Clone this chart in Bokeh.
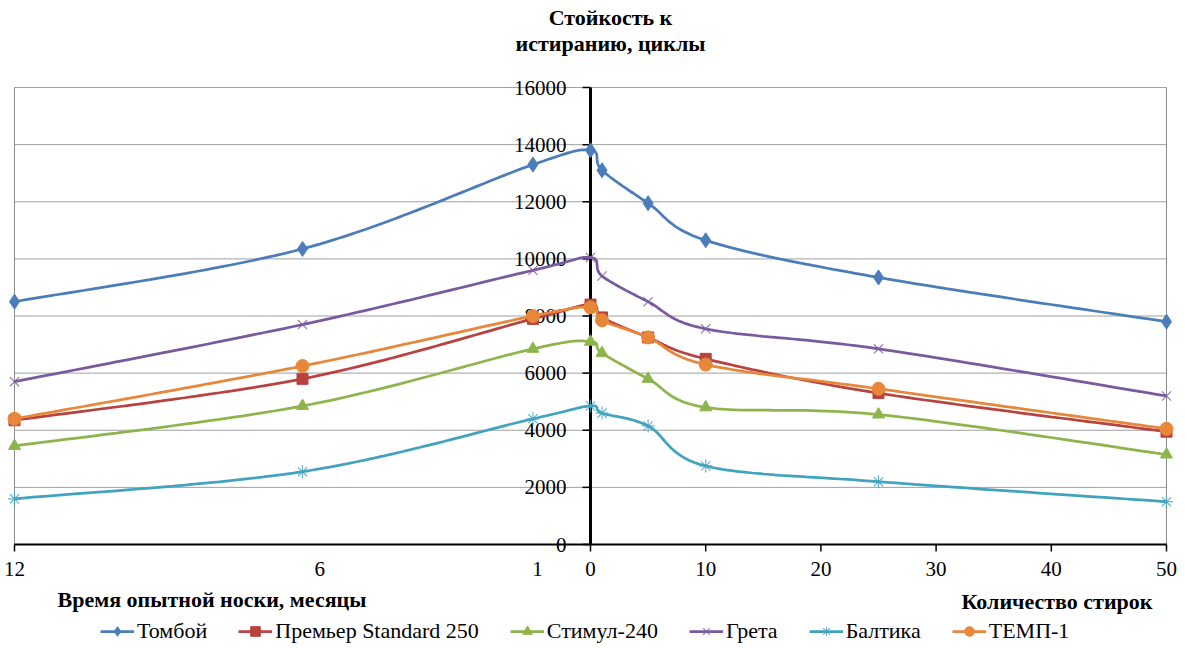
import numpy as np
from bokeh.plotting import figure
from bokeh.models import Range1d, Label, Legend, LegendItem
from bokeh.core.properties import value
from bokeh.embed import file_html
from bokeh.resources import INLINE

# ---------------- data ----------------
months = [12, 6, 1, 0]                 # left half: time of wear, months
washes = [0, 1, 5, 10, 25, 50]         # right half: number of washes
# months are drawn on the same axis as washes (12 -> -50, 6 -> -25, 1 -> -5)
month_scale = {12: -50, 6: -25, 1: -5, 0: 0}

y_ticks = [0, 2000, 4000, 6000, 8000, 10000, 12000, 14000, 16000]
wash_ticks = [0, 10, 20, 30, 40, 50]
month_tick_labels = ["12", "6", "1"]

names = ["Томбой", "Премьер Standard 250", "Стимул-240", "Грета", "Балтика", "ТЕМП-1"]

tomboy_months = [8500, 10350, 13300, 13800]
tomboy_washes = [13800, 13100, 11950, 10650, 9350, 7800]

premier_months = [4350, 5800, 7900, 8400]
premier_washes = [8400, 7950, 7250, 6500, 5300, 3950]

stimul_months = [3450, 4850, 6850, 7100]
stimul_washes = [7100, 6700, 5800, 4800, 4550, 3150]

greta_months = [5700, 7700, 9600, 10050]
greta_washes = [10050, 9400, 8500, 7550, 6850, 5200]

baltika_months = [1600, 2550, 4400, 4850]
baltika_washes = [4850, 4600, 4150, 2750, 2200, 1500]

temp_months = [4400, 6250, 8000, 8300]
temp_washes = [8300, 7850, 7250, 6300, 5450, 4050]

series_months = [tomboy_months, premier_months, stimul_months, greta_months, baltika_months, temp_months]
series_washes = [tomboy_washes, premier_washes, stimul_washes, greta_washes, baltika_washes, temp_washes]

# ---------------- layout & styles ----------------
W, H = 1186, 648
PL, PR, PT, PB = 14, 1166, 87, 544          # plot-area edges in pixels
# month labels 6 and 1 were placed by hand in the original, slightly right of their points
month_label_shift = {12: 0, 6: 1.5, 1: 0.4}

colors = ["#4A7DBA", "#B8423F", "#8DB54B", "#7A5A9E", "#41A3BE", "#E8873A"]
markers = ["diamond", "square", "triangle", "x", "asterisk", "circle"]
msizes = [15, 11, 12, 13, 13, 13]
SERIF = "Liberation Serif"
FS_TICK = "21px"
FS_TEXT = "22px"

x_lo, x_hi = month_scale[months[0]], wash_ticks[-1]
y_lo, y_hi = y_ticks[0], y_ticks[-1]
kx = (PR - PL) / (x_hi - x_lo)
ky = (PB - PT) / (y_hi - y_lo)


def px2x(px):
    return x_lo + (px - PL) / kx


def py2y(py):
    return y_lo + (PB - py) / ky


def smooth(xs, ys, n=30):
    """Excel-like smoothed line (Catmull-Rom Bezier segments)."""
    xs = np.asarray(xs, float)
    ys = np.asarray(ys, float)
    N = len(xs)
    out_x, out_y = [], []
    t = np.linspace(0, 1, n)
    for i in range(N - 1):
        x0, y0 = xs[i], ys[i]
        x3, y3 = xs[i + 1], ys[i + 1]
        xm, ym = (xs[i - 1], ys[i - 1]) if i > 0 else (x0, y0)
        xp, yp = (xs[i + 2], ys[i + 2]) if i + 2 < N else (x3, y3)
        c1x, c1y = x0 + (x3 - xm) / 6, y0 + (y3 - ym) / 6
        c2x, c2y = x3 - (xp - x0) / 6, y3 - (yp - y0) / 6
        b0 = (1 - t) ** 3
        b1 = 3 * (1 - t) ** 2 * t
        b2 = 3 * (1 - t) * t ** 2
        b3 = t ** 3
        bx = b0 * x0 + b1 * c1x + b2 * c2x + b3 * x3
        by = b0 * y0 + b1 * c1y + b2 * c2y + b3 * y3
        if i > 0:
            bx, by = bx[1:], by[1:]
        out_x.extend(bx)
        out_y.extend(by)
    return out_x, out_y


p = figure(width=W, height=H, output_backend="svg", toolbar_location=None,
           x_range=Range1d(px2x(0), px2x(W)), y_range=Range1d(py2y(H), py2y(0)),
           x_axis_location=None, y_axis_location=None,
           min_border=0, min_border_left=0, min_border_right=0,
           min_border_top=0, min_border_bottom=0)
p.grid.visible = False
p.outline_line_color = None
p.background_fill_color = "white"
p.border_fill_color = "white"

# horizontal grid lines
p.segment(x0=[x_lo] * len(y_ticks), x1=[x_hi] * len(y_ticks), y0=y_ticks, y1=y_ticks,
          line_color="#A0A0A0", line_width=1)
# left / right border of the plot area
p.segment(x0=[x_lo, x_hi], x1=[x_lo, x_hi], y0=[y_lo, y_lo], y1=[y_hi, y_hi],
          line_color="#8C8C8C", line_width=1)

# x axis
x_tick_pos = [month_scale[12]] + wash_ticks
p.segment(x0=[x_lo], x1=[x_hi], y0=[y_lo], y1=[y_lo], line_color="black", line_width=2)
p.ray(x=x_tick_pos, y=[y_lo] * len(x_tick_pos), length=7, length_units="screen",
      angle=-np.pi / 2, line_color="black", line_width=1.5)
xl_pos = [month_scale[m] + month_label_shift[m] for m in months[:3]] + wash_ticks
xl_txt = month_tick_labels + [str(v) for v in wash_ticks]
p.text(x=xl_pos, y=[y_lo] * len(xl_pos), text=xl_txt, y_offset=24,
       text_align="center", text_baseline="middle",
       text_font=value(SERIF), text_font_size=FS_TICK, text_color="black")

# y axis at x = 0
p.segment(x0=[0], x1=[0], y0=[y_lo], y1=[y_hi], line_color="black", line_width=3)
p.ray(x=[0] * len(y_ticks), y=y_ticks, length=8, length_units="screen", angle=np.pi,
      line_color="black", line_width=1.5)
p.text(x=[0] * len(y_ticks), y=y_ticks, text=[str(v) for v in y_ticks], x_offset=-24,
       text_align="right", text_baseline="middle",
       text_font=value(SERIF), text_font_size=FS_TICK, text_color="black")

# series
items = []
for name, mv, wv, c, mk, ms in zip(names, series_months, series_washes, colors, markers, msizes):
    xs = [month_scale[m] for m in months] + washes[1:]
    ys = list(mv) + list(wv[1:])
    sx, sy = smooth(xs, ys)
    lr = p.line(sx, sy, line_color=c, line_width=2.75)
    if mk in ("x", "asterisk"):
        sr = p.scatter(xs, ys, marker=mk, size=ms, line_color=c, line_width=1.2,
                       fill_color=None, line_alpha=0.8)
    else:
        sr = p.scatter(xs, ys, marker=mk, size=ms, line_color=c, fill_color=c, line_width=1)
    items.append(LegendItem(label=name, renderers=[lr, sr]))

legend = Legend(items=items, location=(100, 4), orientation="horizontal",
                border_line_color=None, background_fill_alpha=0,
                label_text_font=SERIF, label_text_font_size=FS_TEXT, label_text_color="black",
                glyph_width=34, glyph_height=24, label_height=24, label_standoff=3,
                spacing=31, padding=0, margin=0)
p.add_layout(legend)

# titles
for txt, cx, cy in [("Стойкость к", 610, 17), ("истиранию, циклы", 610, 43)]:
    p.add_layout(Label(x=px2x(cx), y=py2y(cy), text=txt,
                       text_align="center", text_baseline="middle",
                       text_font=SERIF, text_font_size=FS_TEXT, text_font_style="bold",
                       text_color="black"))
p.add_layout(Label(x=px2x(57), y=py2y(599), text="Время опытной носки, месяцы",
                   text_align="left", text_baseline="middle",
                   text_font=SERIF, text_font_size=FS_TEXT, text_font_style="bold",
                   text_color="black"))
p.add_layout(Label(x=px2x(1152), y=py2y(601), text="Количество стирок",
                   text_align="right", text_baseline="middle",
                   text_font=SERIF, text_font_size=FS_TEXT, text_font_style="bold",
                   text_color="black"))

open("out.html", "w").write(file_html(p, INLINE))
